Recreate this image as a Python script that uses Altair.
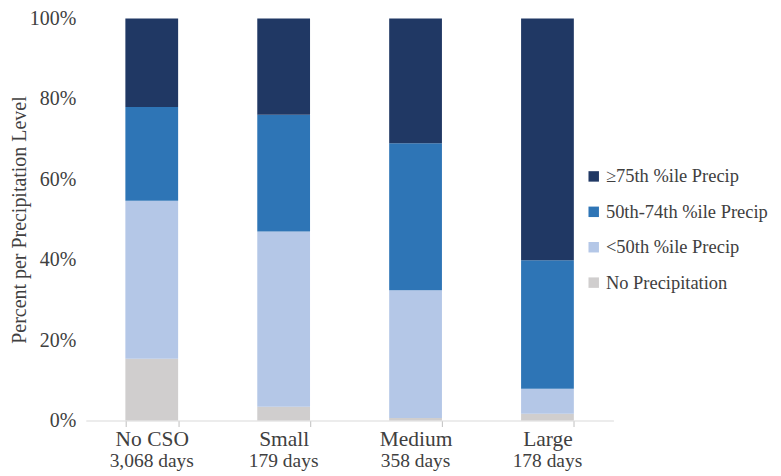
import altair as alt
import pandas as pd

categories = ["No CSO", "Small", "Medium", "Large"]
days_labels = ["3,068 days", "179 days", "358 days", "178 days"]
levels = ["No Precipitation", "<50th %ile Precip", "50th-74th %ile Precip", "≥75th %ile Precip"]
no_precip = [15.4, 3.4, 0.6, 1.7]
below_50 = [39.3, 43.6, 31.8, 6.2]
p50_74 = [23.3, 29.1, 36.6, 32.0]
p75_up = [22.0, 23.9, 31.0, 60.1]

colors = {
    "≥75th %ile Precip": "#203864",
    "50th-74th %ile Precip": "#2E75B6",
    "<50th %ile Precip": "#B4C7E7",
    "No Precipitation": "#D0CECE",
}
legend_order = ["≥75th %ile Precip", "50th-74th %ile Precip", "<50th %ile Precip", "No Precipitation"]

series = [no_precip, below_50, p50_74, p75_up]
rows = []
for li, (lvl, vals) in enumerate(zip(levels, series)):
    for c, v in zip(categories, vals):
        rows.append({"cat": c, "level": lvl, "value": v / 100.0, "rank": li})
df = pd.DataFrame(rows)
days_df = pd.DataFrame({"cat": categories, "days": days_labels})

FONT = "Liberation Serif"
TXT = "#404040"

x_enc = alt.X(
    "cat:N",
    sort=categories,
    scale=alt.Scale(paddingInner=0.6, paddingOuter=0.3),
    axis=alt.Axis(
        title=None, labelAngle=0, labelFontSize=21.5, labelFont=FONT, labelColor=TXT,
        labelBaseline="top", labelPadding=2, tickBand="extent", ticks=True, tickSize=6,
        tickColor="#BFBFBF", domainColor="#D9D9D9", labelLimit=300,
    ),
)

bars = alt.Chart(df).mark_bar().encode(
    x=x_enc,
    y=alt.Y(
        "value:Q",
        stack="zero",
        scale=alt.Scale(domain=[0, 1], nice=False),
        axis=alt.Axis(
            title="Percent per Precipitation Level", format=".0%", values=[0, 0.2, 0.4, 0.6, 0.8, 1.0],
            grid=False, domain=False, ticks=False, labelFontSize=20, labelFont=FONT, labelColor=TXT,
            labelPadding=10, titleFont=FONT, titleFontSize=20, titleFontWeight="normal",
            titleColor=TXT, titlePadding=0,
        ),
    ),
    color=alt.Color(
        "level:N",
        scale=alt.Scale(domain=legend_order, range=[colors[k] for k in legend_order]),
        legend=alt.Legend(
            title=None, orient="none", legendX=500, legendY=149, symbolType="square",
            symbolSize=110, symbolStrokeWidth=0, labelFont=FONT, labelFontSize=18.5, labelColor=TXT,
            rowPadding=16.5, labelOffset=3, labelLimit=300,
        ),
    ),
    order=alt.Order("rank:Q", sort="ascending"),
)

days = alt.Chart(days_df).mark_text(
    font=FONT, fontSize=19.5, color=TXT, baseline="middle", dy=41
).encode(
    x=alt.X("cat:N", sort=categories),
    y=alt.datum(0),
    text="days:N",
)

chart = alt.layer(bars, days).properties(
    width=529, height=403,
    autosize=alt.AutoSizeParams(type="none"),
    padding={"left": 78, "top": 10, "right": 160, "bottom": 50},
).configure_view(stroke=None)

chart.save("out.html", embed_options={"renderer": "svg", "actions": False})
